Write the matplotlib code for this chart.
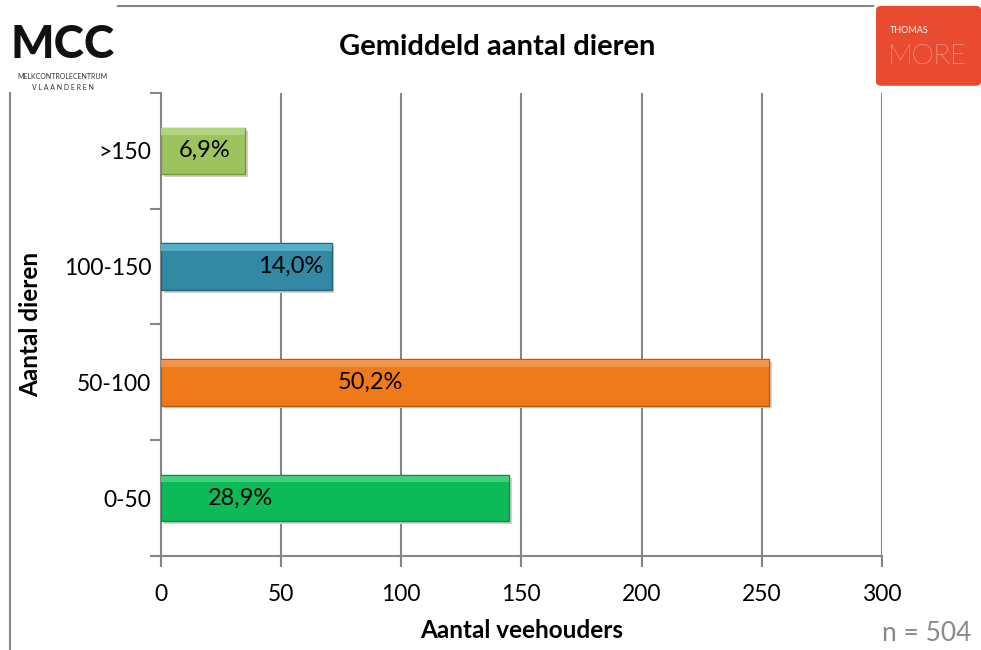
import matplotlib.pyplot as plt
from matplotlib.lines import Line2D
from matplotlib.patches import FancyBboxPatch

plt.rcParams['font.family'] = ['Lato', 'DejaVu Sans']

categories = ['0-50', '50-100', '100-150', '>150']
counts = [145, 253, 71, 35]
percent_labels = ['28,9%', '50,2%', '14,0%', '6,9%']
label_x = [33, 87, 54, 18]
colors = ['#0CBA58', '#EF7A1A', '#3389A4', '#9DC35E']
edges = ['#0A8E43', '#B85A10', '#22657A', '#76963F']
highlights = ['#3FCF7E', '#F4934A', '#55AFC8', '#B3D47E']
x_ticks = [0, 50, 100, 150, 200, 250, 300]

fig = plt.figure(figsize=(9.81, 6.5), dpi=100)
ax = fig.add_axes([0.164, 0.1446, 0.735, 0.7124])

ypos = list(range(len(categories)))
bar_h = 0.4
# shadow
ax.barh([y - 0.025 for y in ypos], counts, left=[1.2] * 4, height=bar_h,
        color='#cfcfcf', zorder=2)
ax.barh(ypos, counts, height=bar_h, color=colors, edgecolor=edges,
        linewidth=1.0, zorder=3)
# bevel highlight on top edge
ax.barh([y + bar_h / 2 - 0.035 for y in ypos], counts, height=0.06,
        color=highlights, zorder=4, linewidth=0)
for y, lx, txt in zip(ypos, label_x, percent_labels):
    ax.text(lx, y, txt, ha='center', va='center', fontsize=17, zorder=5)

ax.set_xlim(0, 300)
ax.set_ylim(-0.5, 3.5)
ax.set_xticks(x_ticks)
ax.set_xticklabels([str(t) for t in x_ticks], fontsize=16.5)
ax.set_yticks([-0.5, 0.5, 1.5, 2.5, 3.5])
ax.set_yticklabels([])
ax.set_yticks(ypos, minor=True)
ax.set_yticklabels(categories, minor=True, fontsize=16.5)
ax.tick_params(axis='y', which='minor', length=0, pad=7)
ax.tick_params(axis='y', which='major', length=8, width=1.5, color='#868686')
ax.tick_params(axis='x', length=8, width=1.5, color='#868686', pad=12)
ax.grid(axis='x', color='#868686', linewidth=1.5, zorder=0)
ax.set_axisbelow(True)
for s in ['top', 'right']:
    ax.spines[s].set_visible(False)
for s in ['left', 'bottom']:
    ax.spines[s].set_color('#868686')
    ax.spines[s].set_linewidth(1.5)

ax.set_xlabel('Aantal veehouders', fontsize=17.5, fontweight='bold', labelpad=10)
ax.set_ylabel('Aantal dieren', fontsize=17.5, fontweight='bold')
ax.yaxis.set_label_coords(-0.165, 0.5)

fig.text(0.507, 0.927, 'Gemiddeld aantal dieren', ha='center', va='center',
         fontsize=21, fontweight='bold')
fig.text(0.945, 0.026, 'n = 504', ha='center', va='center', fontsize=19,
         color='#8a8a8a')

# frame lines
fig.add_artist(Line2D([0.0105, 0.0105], [0.0, 0.857], color='#868686', lw=1.5))
fig.add_artist(Line2D([0.12, 0.89], [0.991, 0.991], color='#868686', lw=1.5))

# MCC logo
fig.text(0.064, 0.93, 'MCC', ha='center', va='center', fontsize=33,
         fontweight='black', color='#111111')
fig.text(0.064, 0.883, 'MELKCONTROLECENTRUM', ha='center', va='center',
         fontsize=5, color='#333333')
fig.text(0.064, 0.865, 'V L A A N D E R E N', ha='center', va='center',
         fontsize=5, color='#333333')

# Thomas More logo
fig.add_artist(FancyBboxPatch((0.893, 0.868), 0.107, 0.123,
                              boxstyle='round,pad=0,rounding_size=0.006',
                              transform=fig.transFigure, color='#E84B30', lw=0))
fig.text(0.907, 0.953, 'THOMAS', ha='left', va='center', fontsize=6.5,
         color='white')
fig.text(0.905, 0.913, 'MORE', ha='left', va='center', fontsize=20,
         color='white', fontweight='light')

fig.savefig('out.png', dpi=100)
